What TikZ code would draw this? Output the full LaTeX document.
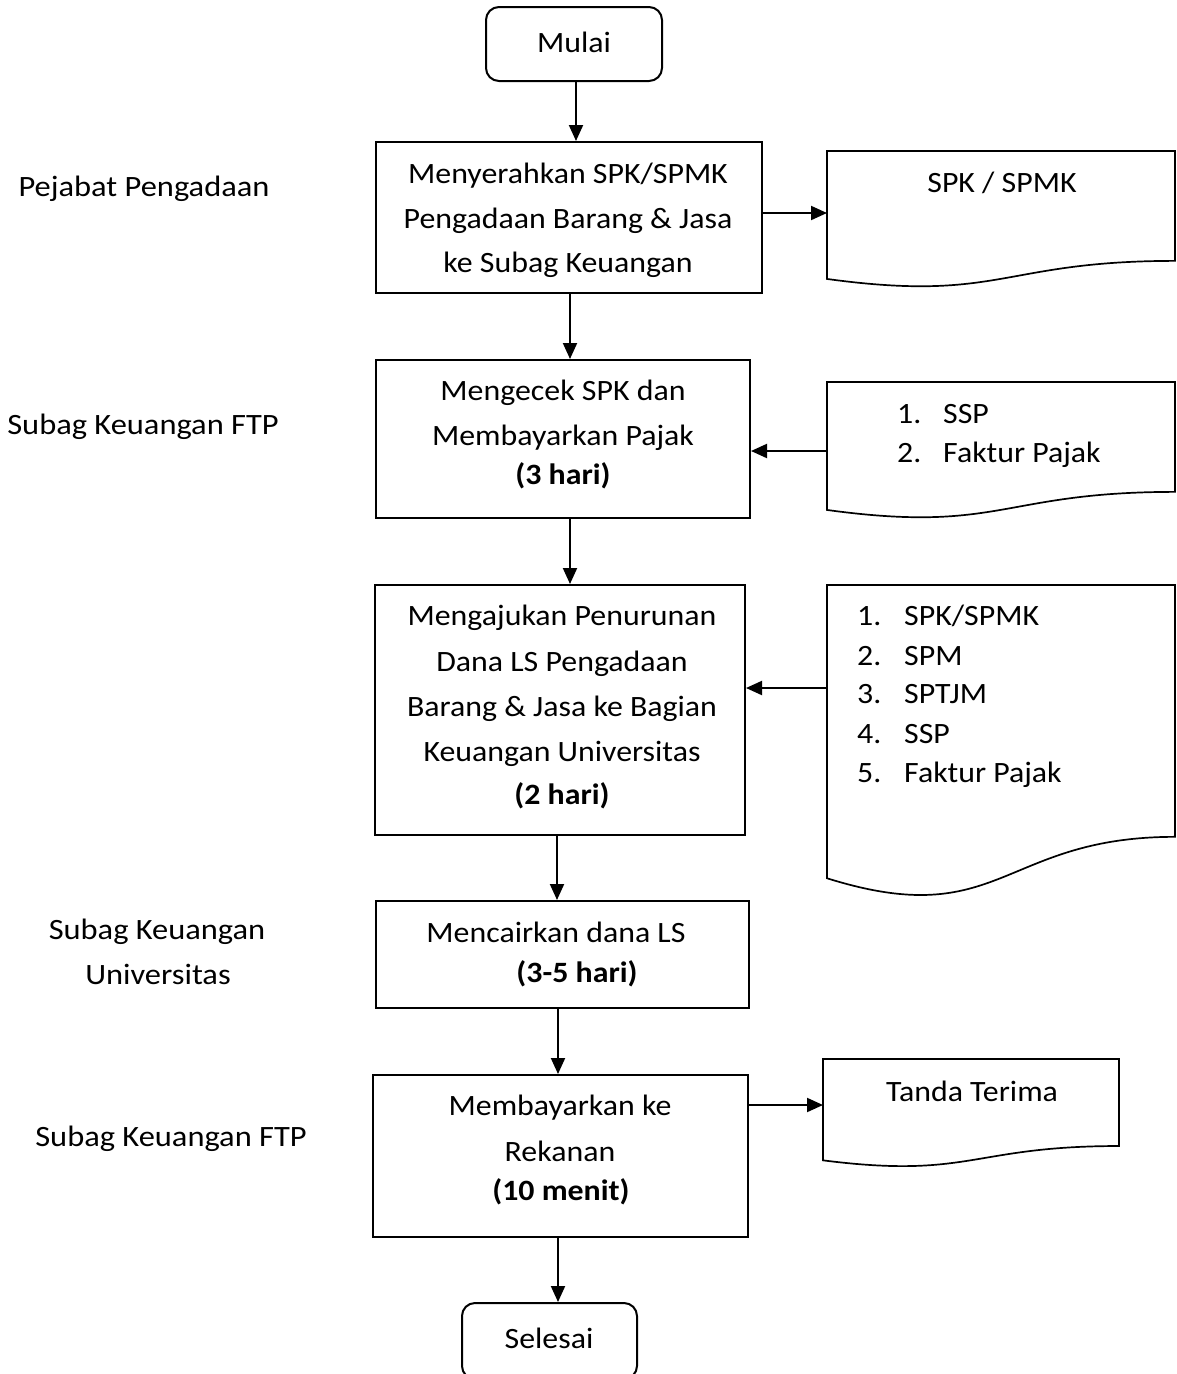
\documentclass[tikz,border=0pt]{standalone}
\usepackage{fontspec}
\setmainfont{Carlito}[FakeStretch=1.08]
\newfontfamily\labelfont{Carlito}[FakeStretch=1.1]
\usetikzlibrary{arrows.meta}
\newcommand{\docshape}[5]{%
  \node[inner sep=0pt, minimum width=#4pt, minimum height={0.9339*#5pt}, anchor=north west] (#1) at (#2,#3) {};
  \draw[docline] (#2,#3) -- ({#2+#4},#3) -- ({#2+#4},{#3+0.802*#5})
    .. controls ({#2+#4/2},{#3+0.802*#5}) and ({#2+#4/2},{#3+1.1075*#5}) .. (#2,{#3+0.9339*#5}) -- cycle;}
\begin{document}
\begin{tikzpicture}[x=1pt,y=-1pt,
  box/.style={draw, line width=2pt, inner sep=0pt},
  term/.style={draw, line width=2pt, inner sep=0pt, rounded corners=13pt},
  docline/.style={line width=1.7pt, line join=miter},
  txt/.style={font=\fontsize{29.5}{45}\selectfont, inner sep=0pt, anchor=base},
  lab/.style={font=\labelfont\fontsize{29.5}{45}\selectfont, inner sep=0pt, anchor=base},
  ltxt/.style={font=\fontsize{29.5}{45}\selectfont, inner sep=0pt, anchor=base west},
  btxt/.style={font=\fontsize{29.5}{45}\selectfont\bfseries, inner sep=0pt, anchor=base},
  arr/.style={-{Triangle[length=16pt,width=14pt]}, line width=2pt}]
\useasboundingbox (0,0) rectangle (1176,1374);
\fill[white] (0,0) rectangle (1176,1374);

% terminals and process boxes
\node[term, minimum width=176pt, minimum height=74pt] (m) at (574,44) {};
\node[box, minimum width=386pt, minimum height=151pt] (b1) at (569,217.5) {};
\node[box, minimum width=374pt, minimum height=158pt] (b2) at (563,439) {};
\node[box, minimum width=370pt, minimum height=250pt] (b3) at (560,710) {};
\node[box, minimum width=373pt, minimum height=107pt] (b4) at (562.5,954.5) {};
\node[box, minimum width=375pt, minimum height=162pt] (b5) at (560.5,1156) {};
\node[term, minimum width=175pt, minimum height=76pt] (s) at (549.5,1341) {};

% documents
\docshape{d1}{827}{151}{348}{137}
\docshape{d2}{827}{382}{348}{137}
\docshape{d3}{827}{585}{348}{314}
\docshape{d5}{823}{1059}{296}{108.5}

% texts in terminals and boxes
\node[txt] (tm) at (574,52) {Mulai};
\node[txt] (t1a) at (568,183) {Menyerahkan SPK/SPMK};
\node[txt] (t1b) at (568,228) {Pengadaan Barang \& Jasa};
\node[txt] (t1c) at (568,272) {ke Subag Keuangan};
\node[txt] (t2a) at (563,400) {Mengecek SPK dan};
\node[txt] (t2b) at (563,445) {Membayarkan Pajak};
\node[btxt] (t2c) at (563,484) {(3 hari)};
\node[txt] (t3a) at (562,625) {Mengajukan Penurunan};
\node[txt] (t3b) at (562,671) {Dana LS Pengadaan};
\node[txt] (t3c) at (562,716) {Barang \& Jasa ke Bagian};
\node[txt] (t3d) at (562,761) {Keuangan Universitas};
\node[btxt] (t3e) at (562,804) {(2 hari)};
\node[txt] (t4a) at (556,942) {Mencairkan dana LS};
\node[btxt] (t4b) at (577,982) {(3-5 hari)};
\node[txt] (t5a) at (560,1115) {Membayarkan ke};
\node[txt] (t5b) at (560,1161) {Rekanan};
\node[btxt] (t5c) at (561,1200) {(10 menit)};
\node[txt] (ts) at (549,1348) {Selesai};

% texts in documents
\node[txt] (td1) at (1002,192) {SPK / SPMK};
\node[ltxt] (n2a) at (897,423) {1.};
\node[ltxt] (i2a) at (943,423) {SSP};
\node[ltxt] (n2b) at (897,462) {2.};
\node[ltxt] (i2b) at (943,462) {Faktur Pajak};
\node[ltxt] (n3a) at (857,625) {1.};
\node[ltxt] (i3a) at (904,625) {SPK/SPMK};
\node[ltxt] (n3b) at (857,665) {2.};
\node[ltxt] (i3b) at (904,665) {SPM};
\node[ltxt] (n3c) at (857,703) {3.};
\node[ltxt] (i3c) at (904,703) {SPTJM};
\node[ltxt] (n3d) at (857,743) {4.};
\node[ltxt] (i3d) at (904,743) {SSP};
\node[ltxt] (n3e) at (857,782) {5.};
\node[ltxt] (i3e) at (904,782) {Faktur Pajak};
\node[txt] (td5) at (972,1101) {Tanda Terima};

% left labels
\node[lab] (l1) at (144,196) {Pejabat Pengadaan};
\node[lab] (l2) at (143,434) {Subag Keuangan FTP};
\node[lab] (l3a) at (157,939) {Subag Keuangan};
\node[lab] (l3b) at (158,984) {Universitas};
\node[lab] (l4) at (171,1146) {Subag Keuangan FTP};

% connectors
\draw[arr] ([xshift=2pt]m.south) -- ([xshift=2pt]m.south |- b1.north);
\draw[arr] ([xshift=1pt]b1.south) -- ([xshift=1pt]b1.south |- b2.north);
\draw[arr] ([xshift=7pt]b2.south) -- ([xshift=7pt]b2.south |- b3.north);
\draw[arr] ([xshift=-3pt]b3.south) -- ([xshift=-3pt]b3.south |- b4.north);
\draw[arr] ([xshift=-2.5pt]b5.north |- b4.south) -- ([xshift=-2.5pt]b5.north);
\draw[arr] ([xshift=-2.5pt]b5.south) -- ([xshift=-2.5pt]b5.south |- s.north);
\draw[arr] ([yshift=4.5pt]b1.east) -- ([yshift=4.5pt]b1.east -| d1.west);
\draw[arr] ([yshift=-12pt]b2.east -| d2.west) -- ([yshift=-12pt]b2.east);
\draw[arr] ([yshift=22pt]b3.east -| d3.west) -- ([yshift=22pt]b3.east);
\draw[arr] ([yshift=51pt]b5.east) -- ([yshift=51pt]b5.east -| d5.west);
\end{tikzpicture}
\end{document}
